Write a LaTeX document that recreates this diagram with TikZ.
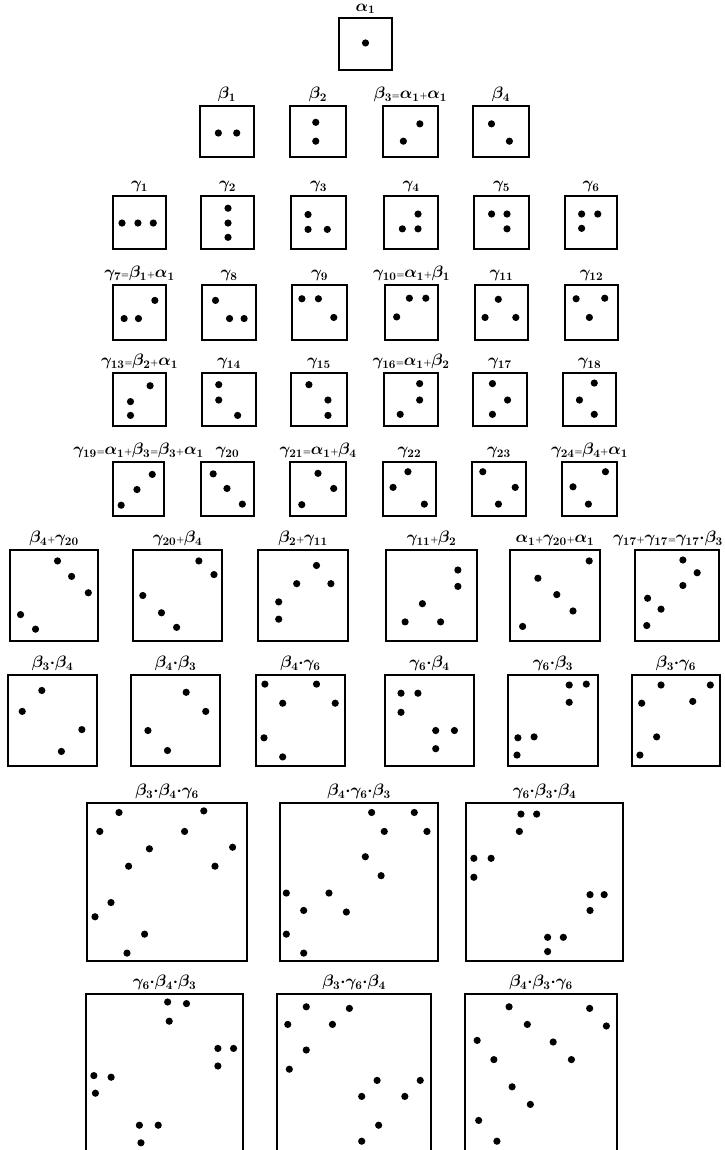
\RequirePackage{fix-cm}
\documentclass[tikz,border=0pt]{standalone}
\usepackage{amsmath}
\usetikzlibrary{calc,positioning}
\tikzset{
  pipbox/.style={draw,line width=1.6pt,inner sep=0pt,outer sep=0pt,anchor=north west},
  piplabel/.style={inner sep=0pt,font=\fontsize{16.5}{18}\selectfont\boldmath},
  pip/.style={fill=black}
}
\newcommand{\pplus}{{\scriptscriptstyle+}}
\newcommand{\peq}{{\scriptscriptstyle=}}
\newcommand{\pdot}{{\cdot}}
% [#1] extra label options, #2 name, #3 #4 top left corner, #5 width, #6 height, #7 label, #8 dots as u/v fractions
\newcommand{\pipbox}[8][]{%
  \node[pipbox,minimum width=#5pt,minimum height=#6pt] (#2) at (#3,#4) {};
  \node[piplabel,above=4pt of #2,#1] (#2l) {#7};
  \foreach \u/\v in {#8}
    \fill[pip] ($(#2.north west)+(\u*#5,\v*#6)$) circle[radius=3.6pt];
}

\begin{document}
\begin{tikzpicture}[x=1pt,y=-1pt]
  \clip (0,0) rectangle (724,1150);
  \fill[white] (0,0) rectangle (724,1150);

  \pipbox{a1}{339}{18}{53}{52}{$\alpha_1$}{0.5/0.48}

  \pipbox{b1}{200}{106}{54}{51}{$\beta_1$}{.34/.53,.68/.53}
  \pipbox{b2}{290}{106}{56}{51}{$\beta_2$}{.46/.32,.46/.69}
  \pipbox{b3}{383}{106}{55}{51}{$\beta_3\peq\alpha_1\pplus\alpha_1$}{.67/.35,.37/.69}
  \pipbox{b4}{473}{106}{56}{51}{$\beta_4$}{.33/.35,.65/.69}

  \pipbox{g1}{113}{196}{53}{53}{$\gamma_1$}{.17/.51,.47/.51,.76/.51}
  \pipbox{g2}{201}{196}{53}{53}{$\gamma_2$}{.51/.23,.51/.51,.51/.78}
  \pipbox{g3}{291}{196}{55}{53}{$\gamma_3$}{.31/.35,.31/.63,.66/.63}
  \pipbox{g4}{384}{196}{54}{53}{$\gamma_4$}{.63/.34,.34/.62,.63/.62}
  \pipbox{g5}{474}{196}{55}{53}{$\gamma_5$}{.32/.34,.6/.34,.6/.62}
  \pipbox{g6}{565}{196}{52}{53}{$\gamma_6$}{.32/.34,.63/.34,.32/.61}

  \pipbox{g7}{113}{285}{53}{55}{$\gamma_7\peq\beta_1\pplus\alpha_1$}{.21/.61,.48/.61,.79/.28}
  \pipbox{g8}{202}{285}{54}{55}{$\gamma_8$}{.25/.28,.51/.61,.78/.61}
  \pipbox{g9}{292}{285}{55}{55}{$\gamma_9$}{.18/.25,.48/.25,.76/.59}
  \pipbox{g10}{385}{285}{53}{55}{$\gamma_{10}\peq\alpha_1\pplus\beta_1$}{.46/.24,.77/.24,.22/.58}
  \pipbox{g11}{475}{285}{53}{55}{$\gamma_{11}$}{.44/.26,.19/.59,.77/.59}
  \pipbox{g12}{565}{285}{53}{55}{$\gamma_{12}$}{.21/.25,.75/.24,.46/.59}

  \pipbox{g13}{113}{373}{53}{53}{$\gamma_{13}\peq\beta_2\pplus\alpha_1$}{.7/.24,.33/.54,.33/.8}
  \pipbox{g14}{202}{373}{54}{53}{$\gamma_{14}$}{.31/.22,.31/.51,.66/.8}
  \pipbox{g15}{291}{373}{56}{53}{$\gamma_{15}$}{.32/.22,.66/.51,.66/.8}
  \pipbox{g16}{384}{373}{54}{53}{$\gamma_{16}\peq\alpha_1\pplus\beta_2$}{.66/.2,.66/.51,.3/.78}
  \pipbox{g17}{473}{373}{54}{53}{$\gamma_{17}$}{.36/.2,.64/.51,.36/.78}
  \pipbox{g18}{563}{373}{53}{53}{$\gamma_{18}$}{.59/.19,.31/.51,.59/.78}

  \pipbox{g19}{113}{462}{51}{54}{$\gamma_{19}\peq\alpha_1\pplus\beta_3\peq\beta_3\pplus\alpha_1$}{.77/.23,.47/.51,.16/.8}
  \pipbox{g20}{201}{462}{53}{54}{$\gamma_{20}$}{.23/.22,.49/.49,.78/.78}
  \pipbox{g21}{290}{462}{56}{54}{$\gamma_{21}\peq\alpha_1\pplus\beta_4$}{.5/.21,.78/.49,.21/.79}
  \pipbox{g22}{383}{462}{53}{54}{$\gamma_{22}$}{.47/.18,.19/.47,.78/.78}
  \pipbox{g23}{472}{462}{54}{54}{$\gamma_{23}$}{.2/.18,.8/.47,.49/.78}
  \pipbox{g24}{562}{462}{55}{54}{$\gamma_{24}\peq\beta_4\pplus\alpha_1$}{.79/.18,.2/.46,.48/.78}

  \pipbox{s1}{10}{550}{88}{91}{$\beta_4\pplus\gamma_{20}$}{.54/.12,.7/.29,.89/.47,.12/.71,.29/.87}
  \pipbox{s2}{133}{550}{89}{91}{$\gamma_{20}\pplus\beta_4$}{.74/.12,.91/.27,.11/.5,.32/.69,.49/.85}
  \pipbox{s3}{258}{550}{90}{91}{$\beta_2\pplus\gamma_{11}$}{.65/.17,.43/.37,.81/.37,.23/.57,.23/.76}
  \pipbox{s4}{386}{550}{91}{91}{$\gamma_{11}\pplus\beta_2$}{.79/.22,.79/.4,.4/.59,.21/.79,.6/.79}
  \pipbox{s5}{510}{550}{90}{91}{$\alpha_1\pplus\gamma_{20}\pplus\alpha_1$}{.88/.12,.31/.31,.52/.49,.7/.67,.14/.84}
  \pipbox[xshift=-9pt]{s6}{635}{550}{84}{91}{$\gamma_{17}\pplus\gamma_{17}\peq\gamma_{17}\pdot\beta_3$}{.57/.11,.74/.25,.57/.39,.15/.53,.31/.65,.14/.83}

  \pipbox{p1}{8}{675}{89}{91}{$\beta_3\pdot\beta_4$}{.38/.17,.16/.4,.83/.6,.6/.84}
  \pipbox{p2}{131}{675}{89}{91}{$\beta_4\pdot\beta_3$}{.62/.19,.84/.4,.19/.61,.41/.83}
  \pipbox{p3}{256}{675}{89}{91}{$\beta_4\pdot\gamma_6$}{.1/.1,.68/.1,.3/.31,.89/.31,.09/.69,.3/.9}
  \pipbox{p4}{385}{675}{89}{91}{$\gamma_6\pdot\beta_4$}{.18/.2,.37/.2,.18/.41,.57/.61,.78/.61,.57/.81}
  \pipbox{p5}{508}{675}{90}{91}{$\gamma_6\pdot\beta_3$}{.68/.11,.87/.1,.68/.3,.11/.69,.29/.68,.1/.88}
  \pipbox{p6}{632}{675}{88}{91}{$\beta_3\pdot\gamma_6$}{.33/.11,.89/.11,.11/.31,.69/.29,.28/.68,.09/.88}

  \pipbox{t1}{87}{803}{160}{158}{$\beta_3\pdot\beta_4\pdot\gamma_6$}{.2/.06,.73/.05,.08/.18,.61/.18,.39/.29,.91/.28,.26/.4,.8/.4,.15/.63,.05/.72,.36/.83,.25/.95}
  \pipbox{t2}{280}{803}{158}{158}{$\beta_4\pdot\gamma_6\pdot\beta_3$}{.58/.06,.85/.06,.66/.18,.93/.18,.54/.34,.64/.46,.04/.57,.31/.57,.15/.68,.42/.69,.04/.83,.15/.95}
  \pipbox{t3}{466}{803}{157}{158}{$\gamma_6\pdot\beta_3\pdot\beta_4$}{.35/.07,.45/.07,.34/.18,.05/.35,.16/.35,.05/.47,.79/.58,.88/.58,.79/.68,.52/.85,.62/.85,.52/.94}

  \pipbox{u1}{86}{994}{157}{160}{$\gamma_6\pdot\beta_4\pdot\beta_3$}{.52/.05,.64/.06,.53/.17,.84/.34,.94/.34,.84/.45,.05/.51,.16/.52,.06/.62,.34/.82,.46/.82,.35/.93}
  \pipbox{u2}{277}{994}{154}{160}{$\beta_3\pdot\gamma_6\pdot\beta_4$}{.19/.08,.47/.09,.07/.19,.36/.19,.19/.35,.08/.47,.65/.54,.93/.54,.55/.64,.83/.64,.66/.82,.55/.92}
  \pipbox{u3}{465}{994}{152}{160}{$\beta_4\pdot\beta_3\pdot\gamma_6$}{.29/.08,.82/.09,.41/.19,.93/.2,.08/.29,.58/.3,.19/.41,.7/.41,.31/.58,.43/.69,.09/.79,.21/.92}
\end{tikzpicture}
\end{document}
